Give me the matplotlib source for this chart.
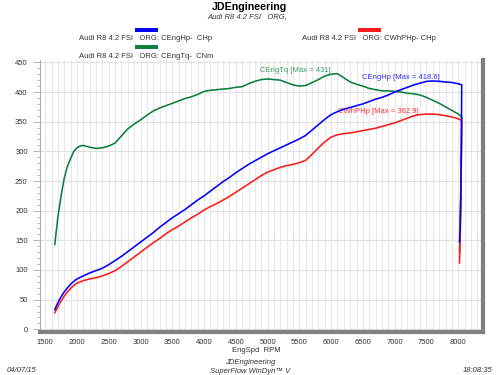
import matplotlib.pyplot as plt
from matplotlib.patches import Rectangle
from matplotlib.ticker import MultipleLocator

plt.rcParams['font.family'] = ['Liberation Sans', 'DejaVu Sans']

# Engine torque, CNm
tq_rpm = [1650, 1700, 1750, 1800, 1850, 1900, 1950, 2000, 2050, 2100, 2200, 2300, 2400,
          2500, 2600, 2700, 2800, 2900, 3000, 3100, 3200, 3300, 3400, 3500, 3600, 3700,
          3800, 3900, 4000, 4100, 4200, 4300, 4400, 4500, 4600, 4700, 4800, 4900, 5000,
          5100, 5200, 5300, 5400, 5500, 5600, 5700, 5800, 5900, 6000, 6100, 6200, 6300,
          6400, 6500, 6600, 6700, 6800, 6900, 7000, 7100, 7200, 7300, 7400, 7500, 7600,
          7700, 7800, 7900, 8000, 8055, 8050, 8040, 8030, 8020]
tq_val = [143, 190, 225, 255, 275, 288, 300, 306, 309, 310, 307, 305, 306,
          309, 314, 326, 338, 346, 353, 361, 368, 373, 377, 381, 385, 389,
          392, 396, 401, 403, 404, 405, 406, 408, 409, 414, 418, 421, 422,
          421, 420, 416, 412, 410, 411, 416, 421, 427, 430, 431, 424, 417,
          413, 410, 406, 404, 402, 402, 401, 400, 398, 397, 395, 391, 386,
          381, 375, 369, 363, 358, 300, 220, 160, 130]

# Engine power, CHp
hp_rpm = [1650, 1700, 1750, 1800, 1850, 1900, 1950, 2000, 2100, 2200, 2300, 2400,
          2500, 2600, 2700, 2800, 2900, 3000, 3100, 3200, 3300, 3400, 3500, 3600, 3700,
          3800, 3900, 4000, 4100, 4200, 4300, 4400, 4500, 4600, 4700, 4800, 4900, 5000,
          5100, 5200, 5300, 5400, 5500, 5600, 5700, 5800, 5900, 6000, 6100, 6200, 6300,
          6400, 6500, 6600, 6700, 6800, 6900, 7000, 7100, 7200, 7300, 7400, 7500, 7600,
          7700, 7800, 7900, 8000, 8055, 8050, 8040, 8030, 8020]
hp_val = [33, 45, 55, 63, 70, 76, 81, 85, 90, 95, 99, 103,
          109, 116, 123, 131, 139, 147, 155, 163, 172, 180, 188, 195, 202,
          210, 218, 225, 233, 241, 249, 256, 264, 271, 278, 284, 290, 296,
          301, 306, 311, 316, 321, 327, 336, 345, 354, 362, 367, 371, 374,
          377, 380, 384, 388, 391, 395, 400, 404, 408, 412, 415, 418, 418.6,
          418, 417, 416, 414, 412, 320, 230, 170, 147]

# Wheel power, CHp
whp_rpm = [1650, 1700, 1750, 1800, 1850, 1900, 1950, 2000, 2100, 2200, 2300, 2400,
           2500, 2600, 2700, 2800, 2900, 3000, 3100, 3200, 3300, 3400, 3500, 3600, 3700,
           3800, 3900, 4000, 4100, 4200, 4300, 4400, 4500, 4600, 4700, 4800, 4900, 5000,
           5100, 5200, 5300, 5400, 5500, 5600, 5700, 5800, 5900, 6000, 6100, 6200, 6300,
           6400, 6500, 6600, 6700, 6800, 6900, 7000, 7100, 7200, 7300, 7400, 7500, 7600,
           7700, 7800, 7900, 8000, 8055, 8050, 8040, 8030, 8020]
whp_val = [28, 38, 48, 56, 63, 69, 74, 78, 82, 85, 87, 90,
           94, 99, 106, 114, 122, 130, 138, 146, 153, 161, 168, 174, 181,
           188, 194, 201, 207, 212, 218, 224, 231, 238, 245, 252, 259, 265,
           269, 273, 276, 278, 281, 285, 295, 306, 316, 324, 328, 330, 331,
           333, 335, 337, 339, 342, 345, 348, 352, 356, 360, 362, 362.9, 362.7,
           362, 360, 358, 355, 352, 290, 210, 150, 112]

legend_prefix = "Audi R8 4.2 FSI   ORG: "
x_ticks = list(range(1500, 8001, 500))
y_ticks = list(range(0, 451, 50))

BLUE = "#0000ff"
RED = "#ff1a1a"
GREEN = "#0b7f3f"
TXT = "#333333"

fig = plt.figure(figsize=(5, 3.75), dpi=100, facecolor="white")
ax = fig.add_axes([0.079, 0.1155, 0.887, 0.7245])

ax.plot(tq_rpm, tq_val, color=GREEN, lw=1.15, zorder=3)
ax.plot(whp_rpm, whp_val, color=RED, lw=1.15, zorder=4)
ax.plot(hp_rpm, hp_val, color=BLUE, lw=1.15, zorder=5)

ax.set_xlim(1410, 8390)
ax.set_ylim(-4, 454)

ax.xaxis.set_major_locator(MultipleLocator(500))
ax.xaxis.set_minor_locator(MultipleLocator(100))
ax.yaxis.set_major_locator(MultipleLocator(50))
ax.yaxis.set_minor_locator(MultipleLocator(10))
ax.set_xticks(x_ticks)
ax.set_yticks(y_ticks)

ax.grid(True, which="major", axis="y", color="#e2e2e2", lw=0.8)
ax.grid(True, which="both", axis="x", color="#e8e8e8", lw=0.8)
ax.set_axisbelow(True)

ax.spines["top"].set_visible(False)
ax.spines["left"].set_color("#aaaaaa")
ax.spines["left"].set_linewidth(0.7)
ax.spines["bottom"].set_color("#808080")
ax.spines["bottom"].set_linewidth(3)
ax.spines["right"].set_color("#808080")
ax.spines["right"].set_linewidth(3)

ax.tick_params(axis="y", which="major", length=5, width=0.6, color="#aaaaaa",
               labelsize=5.5, labelcolor=TXT, pad=3.5)
ax.tick_params(axis="y", which="minor", length=2.4, width=0.6, color="#aaaaaa")
ax.tick_params(axis="x", which="both", length=0, labelsize=5.5, labelcolor=TXT, pad=5)

# curve annotations
ax.text(4884, 437, "CEngTq [Max = 431]", color="#3a9a5e", fontsize=5.5, va="center")
ax.text(6489, 425, "CEngHp [Max = 418.6]", color="#3030ff", fontsize=5.5, va="center")
ax.text(6111, 368, "CWhPHp [Max = 362.9]", color="#ff3030", fontsize=5.5, va="center")

# header
fig.text(0.5, 1 - 7 / 375, "JDEngineering", fontsize=7.7, fontweight="bold",
         ha="center", va="center", color="black")
fig.text(0.494, 1 - 17 / 375, "Audi R8 4.2 FSI   ORG,", fontsize=5.5, style="italic",
         ha="center", va="center", color=TXT)

# legend entries
for cx, ty, color, name in [(146, 39, BLUE, "CEngHp-  CHp"),
                            (146, 56, GREEN, "CEngTq-  CNm"),
                            (369, 39, RED, "CWhPHp- CHp")]:
    fig.patches.append(Rectangle(((cx - 11.5) / 500, 1 - (ty - 7) / 375), 23 / 500, 4 / 375,
                                 transform=fig.transFigure, facecolor=color,
                                 edgecolor="none"))
    fig.text(cx / 500, 1 - ty / 375, legend_prefix + name, fontsize=5.5,
             ha="center", va="center", color=TXT)

# footer
fig.text(256 / 500, 1 - 351 / 375, "EngSpd  RPM", fontsize=5.5, ha="center", va="center", color=TXT)
fig.text(7 / 500, 1 - 370 / 375, "04/07/15", fontsize=5.5, style="italic", va="center", color=TXT)
fig.text(250 / 500, 1 - 362 / 375, "JDEngineering", fontsize=5.5, style="italic",
         ha="center", va="center", color=TXT)
fig.text(250 / 500, 1 - 371 / 375, "SuperFlow WinDyn\u2122 V", fontsize=5.5, style="italic",
         ha="center", va="center", color=TXT)
fig.text(493 / 500, 1 - 370 / 375, "18:08:35", fontsize=5.5, style="italic",
         ha="right", va="center", color=TXT)

fig.savefig("out.png", dpi=100, facecolor="white")
